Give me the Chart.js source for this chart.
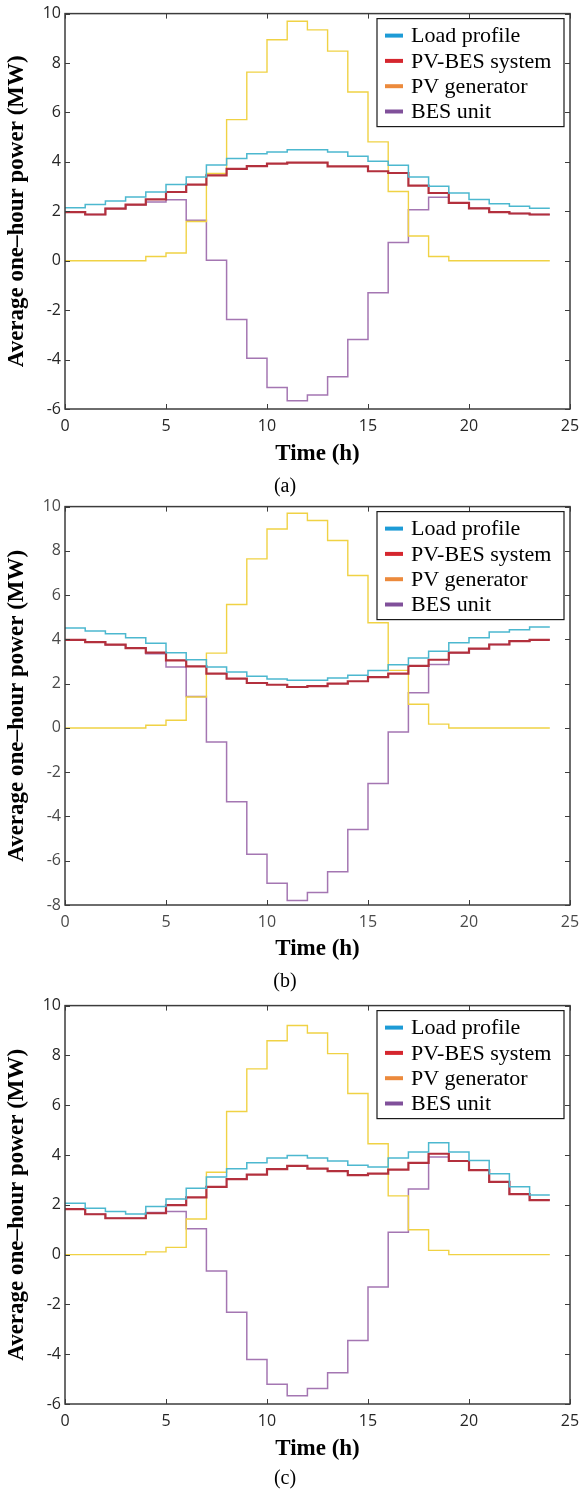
<!DOCTYPE html>
<html>
<head>
<meta charset="utf-8">
<script src="https://cdn.jsdelivr.net/npm/chart.js@4.4.1/dist/chart.umd.min.js"></script>
<style>
  html, body { margin: 0; padding: 0; background: #fff; }
  body { width: 580px; height: 1492px; position: relative; overflow: hidden; }
  .panel { position: absolute; left: 0; width: 580px; }
</style>
</head>
<body>
<div class="panel" style="top:0px;height:500px"><canvas id="chartA"></canvas></div>
<div class="panel" style="top:493px;height:502px"><canvas id="chartB"></canvas></div>
<div class="panel" style="top:992px;height:500px"><canvas id="chartC"></canvas></div>

<script>
// hourly values, hour 0..23 (each held for one hour)
const hours = [0, 1, 2, 3, 4, 5, 6, 7, 8, 9, 10, 11, 12, 13, 14, 15, 16, 17, 18, 19, 20, 21, 22, 23, 24];
const seriesNames = ['Load profile', 'PV-BES system', 'PV generator', 'BES unit'];
const xTickLabels = [0, 5, 10, 15, 20, 25];

// (a)
const loadA  = [2.14, 2.28, 2.42, 2.58, 2.78, 3.08, 3.39, 3.87, 4.14, 4.33, 4.40, 4.49, 4.49, 4.40, 4.23, 4.03, 3.86, 3.39, 3.01, 2.74, 2.48, 2.31, 2.20, 2.12];
const pvbesA = [1.97, 1.87, 2.11, 2.27, 2.48, 2.78, 3.08, 3.45, 3.72, 3.83, 3.93, 3.97, 3.97, 3.82, 3.82, 3.62, 3.55, 3.04, 2.74, 2.34, 2.12, 1.97, 1.91, 1.87];
const pvA    = [0, 0, 0, 0, 0.17, 0.31, 1.59, 3.53, 5.71, 7.63, 8.94, 9.69, 9.34, 8.48, 6.83, 4.81, 2.80, 1.00, 0.17, 0, 0, 0, 0, 0];
const besA   = [1.97, 1.87, 2.11, 2.27, 2.38, 2.47, 1.64, 0.02, -2.38, -3.95, -5.13, -5.67, -5.43, -4.69, -3.19, -1.30, 0.74, 2.06, 2.57, 2.34, 2.12, 1.97, 1.91, 1.87];
const yTickLabelsA = [-6, -4, -2, 0, 2, 4, 6, 8, 10];

// (b)
const loadB  = [4.51, 4.38, 4.26, 4.08, 3.83, 3.40, 3.08, 2.75, 2.53, 2.33, 2.21, 2.15, 2.15, 2.26, 2.38, 2.60, 2.86, 3.16, 3.47, 3.85, 4.08, 4.33, 4.44, 4.56];
const pvbesB = [3.98, 3.88, 3.76, 3.61, 3.40, 3.05, 2.78, 2.45, 2.23, 2.03, 1.95, 1.85, 1.89, 2.00, 2.11, 2.30, 2.45, 2.80, 3.08, 3.40, 3.58, 3.77, 3.92, 3.98];
const pvB    = [0, 0, 0, 0, 0.12, 0.35, 1.40, 3.38, 5.58, 7.64, 8.99, 9.70, 9.37, 8.47, 6.89, 4.75, 2.60, 1.07, 0.17, 0, 0, 0, 0, 0];
const besB   = [3.98, 3.88, 3.76, 3.61, 3.35, 2.75, 1.42, -0.63, -3.34, -5.71, -7.02, -7.80, -7.44, -6.50, -4.59, -2.51, -0.18, 1.59, 2.87, 3.40, 3.58, 3.77, 3.92, 3.98];
const yTickLabelsB = [-8, -6, -4, -2, 0, 2, 4, 6, 8, 10];

// (c)
const loadC  = [2.06, 1.86, 1.73, 1.63, 1.93, 2.23, 2.66, 3.12, 3.45, 3.69, 3.88, 3.98, 3.88, 3.76, 3.59, 3.52, 3.88, 4.12, 4.49, 4.12, 3.78, 3.25, 2.72, 2.39];
const pvbesC = [1.83, 1.62, 1.46, 1.46, 1.66, 1.99, 2.30, 2.72, 3.03, 3.21, 3.43, 3.56, 3.45, 3.35, 3.19, 3.25, 3.41, 3.68, 4.05, 3.76, 3.39, 2.92, 2.43, 2.19];
const pvC    = [0, 0, 0, 0, 0.11, 0.29, 1.43, 3.31, 5.75, 7.46, 8.59, 9.20, 8.90, 8.07, 6.47, 4.45, 2.36, 1.00, 0.17, 0, 0, 0, 0, 0];
const besC   = [1.83, 1.62, 1.46, 1.46, 1.69, 1.73, 1.04, -0.66, -2.32, -4.21, -5.21, -5.67, -5.38, -4.74, -3.45, -1.30, 0.90, 2.63, 3.92, 3.76, 3.39, 2.92, 2.43, 2.19];
const yTickLabelsC = [-6, -4, -2, 0, 2, 4, 6, 8, 10];

// --- styling ---
const lineColors   = ['#4cb8cf', '#b3303d', '#f0d244', '#a476b2'];
const lineWidths   = [1.5, 2.2, 1.4, 1.5];
const legendColors = ['#1d9bd6', '#d5262e', '#ec8a3c', '#80509a'];
const SERIF = "'Liberation Serif', 'Times New Roman', serif";

// stairs: value i is held over [i, i+1], last one repeated at 24
function toSteps(values) {
    return hours.map((h, i) => ({ x: h, y: values[Math.min(i, values.length - 1)] }));
}

// box, inward ticks (MATLAB style) and the legend inside the top right corner
const framePlugin = {
    id: 'frame',
    afterDatasetsDraw(chart) {
        const { ctx, chartArea: a, scales: { x, y } } = chart;
        ctx.save();
        ctx.strokeStyle = '#3c3c3c';
        ctx.lineWidth = 1;
        ctx.beginPath();
        x.ticks.forEach(t => {
            const px = Math.round(x.getPixelForValue(t.value)) + 0.5;
            ctx.moveTo(px, a.bottom); ctx.lineTo(px, a.bottom - 5);
            ctx.moveTo(px, a.top); ctx.lineTo(px, a.top + 5);
        });
        y.ticks.forEach(t => {
            const py = Math.round(y.getPixelForValue(t.value)) + 0.5;
            ctx.moveTo(a.left, py); ctx.lineTo(a.left + 5, py);
            ctx.moveTo(a.right, py); ctx.lineTo(a.right - 5, py);
        });
        ctx.stroke();
        ctx.lineWidth = 1.5;
        ctx.strokeRect(a.left, a.top, a.right - a.left, a.bottom - a.top);

        // legend
        const w = 187, h = 108;
        const lx = a.right - 6 - w, ly = a.top + 5;
        ctx.fillStyle = '#fff';
        ctx.fillRect(lx, ly, w, h);
        ctx.strokeStyle = '#1a1a1a';
        ctx.lineWidth = 1.2;
        ctx.strokeRect(lx, ly, w, h);
        ctx.font = '22px ' + SERIF;
        ctx.textBaseline = 'middle';
        ctx.textAlign = 'left';
        seriesNames.forEach((name, i) => {
            const ry = ly + 17 + i * 25.3;
            ctx.strokeStyle = legendColors[i];
            ctx.lineWidth = 4;
            ctx.beginPath();
            ctx.moveTo(lx + 8, ry); ctx.lineTo(lx + 26, ry);
            ctx.stroke();
            ctx.fillStyle = '#000';
            ctx.fillText(name, lx + 34, ry + 1);
        });
        ctx.restore();
    }
};

function makeChart(id, caption, series, yTicks, lay) {
    const datasets = series.map((vals, i) => ({
        label: seriesNames[i],
        data: toSteps(vals),
        borderColor: lineColors[i],
        borderWidth: lineWidths[i],
        stepped: 'before',
        pointRadius: 0,
        fill: false
    }));
    const tickFont = { family: "'Open Sans', sans-serif", size: 16 };

    return new Chart(document.getElementById(id), {
        type: 'line',
        data: { datasets },
        plugins: [framePlugin],
        options: {
            responsive: true,
            maintainAspectRatio: false,
            animation: false,
            layout: { padding: { top: lay.top, right: 10, left: 0, bottom: 0 } },
            plugins: {
                legend: { display: false },
                tooltip: { enabled: false },
                title: {
                    display: true,
                    position: 'bottom',
                    text: caption,
                    color: '#000',
                    font: { family: SERIF, size: 20, weight: 'normal', lineHeight: 1.2 },
                    padding: { top: 0, bottom: 1 }
                }
            },
            scales: {
                x: {
                    type: 'linear',
                    min: xTickLabels[0],
                    max: xTickLabels[xTickLabels.length - 1],
                    afterFit: (s) => {
                        s.height = lay.xHeight;
                        s.paddingLeft = 0;
                        s.paddingRight = 0;
                    },
                    afterBuildTicks: (s) => { s.ticks = xTickLabels.map(v => ({ value: v })); },
                    grid: { display: false, drawTicks: false },
                    border: { display: false },
                    ticks: { color: lay.tickColor, padding: 8, maxRotation: 0, font: tickFont },
                    title: {
                        display: true,
                        text: 'Time (h)',
                        color: '#000',
                        font: { family: SERIF, size: 23, weight: 'bold', lineHeight: 1.2 },
                        padding: { top: 0, bottom: lay.xTitlePad }
                    }
                },
                y: {
                    min: yTicks[0],
                    max: yTicks[yTicks.length - 1],
                    afterFit: (s) => { s.width = 65; },
                    afterBuildTicks: (s) => { s.ticks = yTicks.map(v => ({ value: v })); },
                    grid: { display: false, drawTicks: false },
                    border: { display: false },
                    ticks: { color: lay.tickColor, padding: 4, font: tickFont },
                    title: {
                        display: true,
                        text: 'Average one\u2013hour power (MW)',
                        color: '#000',
                        font: { family: SERIF, size: 23, weight: 'bold', lineHeight: 1.2 },
                        padding: { top: 3, bottom: 0 }
                    }
                }
            }
        }
    });
}

makeChart('chartA', '(a)', [loadA, pvbesA, pvA, besA], yTickLabelsA, { top: 13, xHeight: 66, xTitlePad: 7, tickColor: '#262626' });
makeChart('chartB', '(b)', [loadB, pvbesB, pvB, besB], yTickLabelsB, { top: 13, xHeight: 65, xTitlePad: 7, tickColor: '#4a4a4a' });
makeChart('chartC', '(c)', [loadC, pvbesC, pvC, besC], yTickLabelsC, { top: 12, xHeight: 63, xTitlePad: 4, tickColor: '#262626' });
</script>
</body>
</html>
